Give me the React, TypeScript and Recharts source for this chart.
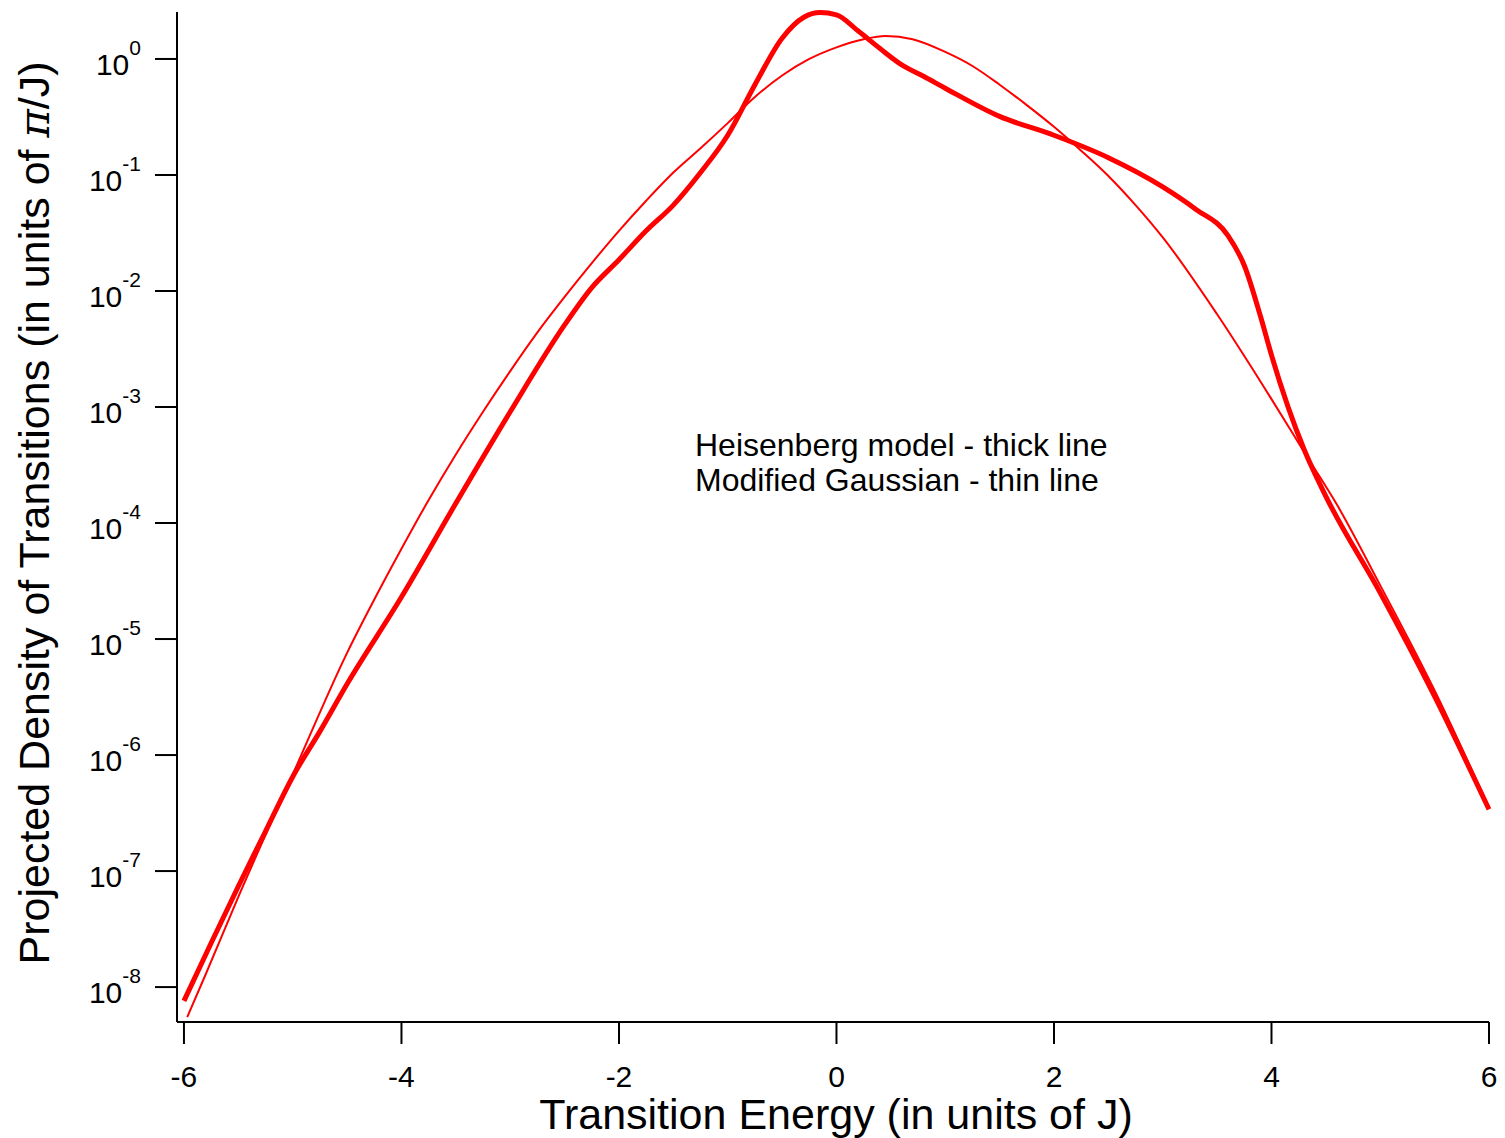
import { LineChart, Line, XAxis, YAxis } from 'recharts';

// Heisenberg model (thick line)
const heisenbergX = [
  -6.0, -5.75, -5.5, -5.25, -5.0, -4.75, -4.5, -4.0, -3.5, -3.0, -2.5, -2.25, -2.0, -1.75, -1.5,
  -1.25, -1.0, -0.75, -0.5, -0.3, -0.15, 0.0, 0.2, 0.4, 0.6, 0.8, 1.0, 1.5, 2.0, 2.5, 3.0, 3.3,
  3.6, 3.75, 3.9, 4.0, 4.3, 4.5, 5.0, 5.5, 6.0,
];
const heisenbergY = [
  7.6e-9, 2.4e-8, 7.4e-8, 2.2e-7, 6.5e-7, 1.6e-6, 4.1e-6, 2.3e-5, 1.48e-4, 9.1e-4, 5.1e-3,
  1.07e-2, 1.86e-2, 3.3e-2, 5.5e-2, 0.105, 0.22, 0.6, 1.51, 2.29, 2.51, 2.4, 1.74, 1.23, 0.89,
  0.71, 0.56, 0.32, 0.22, 0.141, 0.079, 0.051, 0.03, 0.0166, 6.0e-3, 2.8e-3, 4.3e-4, 1.7e-4,
  2.5e-5, 3.2e-6, 3.4e-7,
];

// Modified Gaussian (thin line)
const gaussianX = [
  -5.97, -5.8, -5.5, -5.0, -4.5, -4.25, -4.0, -3.75, -3.5, -3.25, -3.0, -2.75, -2.5, -2.25, -2.0,
  -1.75, -1.5, -1.25, -1.0, -0.75, -0.5, -0.25, 0.0, 0.25, 0.45, 0.7, 1.0, 1.25, 1.5, 1.75, 2.0,
  2.25, 2.5, 2.75, 3.0, 3.5, 4.0, 4.3, 4.6, 5.0, 5.5, 6.0,
];
const gaussianY = [
  5.5e-9, 1.29e-8, 6.0e-8, 6.8e-7, 7.6e-6, 2.19e-5, 6.0e-5, 1.58e-4, 3.9e-4, 9.1e-4, 2.04e-3,
  4.4e-3, 8.9e-3, 1.74e-2, 3.3e-2, 6.0e-2, 0.105, 0.17, 0.28, 0.47, 0.72, 1.0, 1.26, 1.48, 1.58,
  1.48, 1.15, 0.87, 0.6, 0.4, 0.26, 0.162, 0.098, 0.055, 0.029, 6.3e-3, 1.17e-3, 4.1e-4, 1.45e-4,
  2.9e-5, 3.6e-6, 3.5e-7,
];

const xTicks = [-6, -4, -2, 0, 2, 4, 6];
const yTicks = [1e-8, 1e-7, 1e-6, 1e-5, 1e-4, 1e-3, 1e-2, 1e-1, 1];

const heisenberg = heisenbergX.map((x, i) => ({ x, y: heisenbergY[i] }));
const gaussian = gaussianX.map((x, i) => ({ x, y: gaussianY[i] }));

const font = '"Liberation Sans", Arial, sans-serif';

const YTick = (props: any) => {
  const { x, y, payload } = props;
  const exp = Math.round(Math.log10(payload.value));
  return (
    <text x={x} y={y + 16} textAnchor="end" fontFamily={font} fontSize={30} fill="#000">
      10
      <tspan dy={-20} fontSize={21}>
        {exp}
      </tspan>
    </text>
  );
};

const XTick = (props: any) => {
  const { x, y, payload } = props;
  return (
    <text x={x} y={y + 41} textAnchor="middle" fontFamily={font} fontSize={30} fill="#000">
      {payload.value}
    </text>
  );
};

export default function App() {
  return (
    <div style={{ position: 'absolute', left: 0, top: 0, width: 1505, height: 1138, background: '#fff' }}>
      <LineChart
        width={1505}
        height={1138}
        margin={{ top: 12, right: 16, bottom: 56, left: 77 }}
      >
        <XAxis
          type="number"
          dataKey="x"
          domain={[-6.064, 6]}
          ticks={xTicks}
          height={60}
          tickSize={22}
          tickMargin={2}
          axisLine={{ stroke: '#000', strokeWidth: 2 }}
          tickLine={{ stroke: '#000', strokeWidth: 2 }}
          tick={<XTick />}
        />
        <YAxis
          type="number"
          dataKey="y"
          scale="log"
          domain={[5e-9, 2.54]}
          ticks={yTicks}
          width={100}
          tickSize={22}
          tickMargin={14}
          axisLine={{ stroke: '#000', strokeWidth: 2 }}
          tickLine={{ stroke: '#000', strokeWidth: 2 }}
          tick={<YTick />}
        />
        <Line
          data={gaussian}
          dataKey="y"
          type="monotone"
          stroke="#ff0000"
          strokeWidth={2}
          dot={false}
          isAnimationActive={false}
        />
        <Line
          data={heisenberg}
          dataKey="y"
          type="monotone"
          stroke="#ff0000"
          strokeWidth={5}
          dot={false}
          isAnimationActive={false}
        />
      </LineChart>
      <svg
        width={1505}
        height={1138}
        style={{ position: 'absolute', left: 0, top: 0, pointerEvents: 'none' }}
      >
        <text x={695} y={456} fontFamily={font} fontSize={32} fill="#000">
          Heisenberg model - thick line
        </text>
        <text x={695} y={491} fontFamily={font} fontSize={32} fill="#000">
          Modified Gaussian - thin line
        </text>
        <text x={836} y={1129} textAnchor="middle" fontFamily={font} fontSize={43} fill="#000">
          Transition Energy (in units of J)
        </text>
        <text
          transform="translate(49, 513) rotate(-90)"
          textAnchor="middle"
          fontFamily={font}
          fontSize={43}
          fill="#000"
        >
          Projected Density of Transitions (in units of <tspan fontStyle="italic" fontFamily="'DejaVu Serif', serif">π</tspan>/J)
        </text>
      </svg>
    </div>
  );
}
